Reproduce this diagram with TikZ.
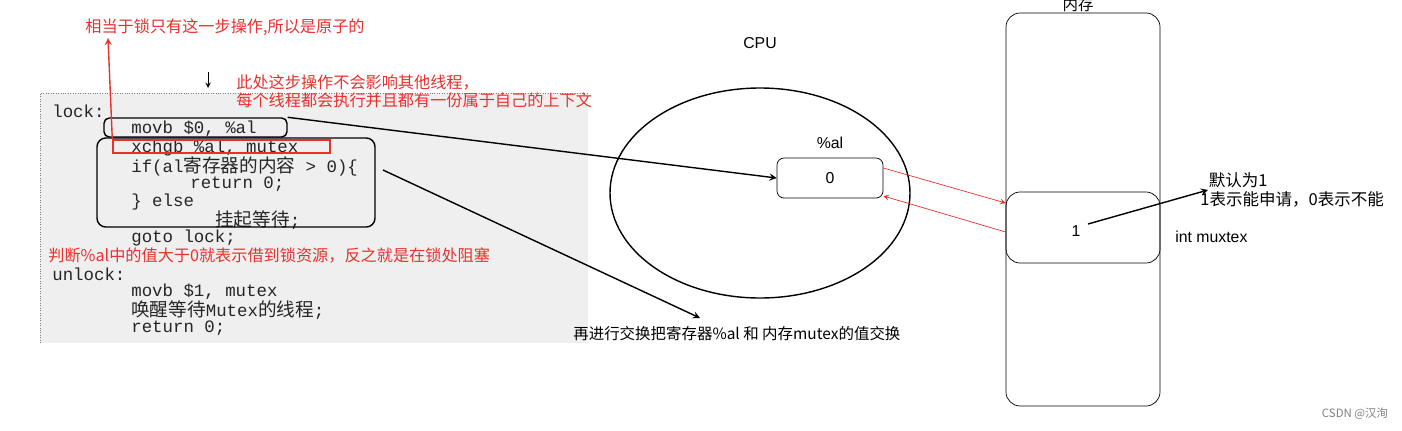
\documentclass[tikz,border=0pt]{standalone}
\usepackage{fontspec}
\setmainfont{Noto Sans CJK SC}
\newfontfamily\codefont{Liberation Mono}
\newfontfamily\latinfont{Liberation Sans}
\usetikzlibrary{positioning,shapes.geometric}
\definecolor{notered}{HTML}{E8312F}
\definecolor{codebg}{HTML}{EFEFEF}
\tikzset{
    note/.style = {text=notered, font=\fontsize{9.2}{10.4}\selectfont, inner sep=0pt, anchor=west, align=left},
    label-text/.style = {font=\fontsize{8.8}{10}\selectfont, inner sep=0pt},
    latin-text/.style = {font=\latinfont\fontsize{9}{10}\selectfont, inner sep=0pt},
    code-line/.style = {font=\codefont\fontsize{9.9}{11}\selectfont, text=black!85, inner sep=0pt, anchor=west},
    mark-box/.style = {draw, thick, rounded corners=5pt},
}
\newcommand{\zh}[1]{{\normalfont\fontsize{10.6}{11}\selectfont #1}}
\begin{document}
\begin{tikzpicture}[x=0.02cm,y=-0.02cm,>=stealth]
\useasboundingbox (0,0) rectangle (1402,430);
% code snippet background
\fill[codebg] (40,93) rectangle (588,343);
\draw[densely dotted, gray] (40,343) -- (40,93) -- (588,93);
\node[code-line] (l1) at (52,111) {lock:};
\node[code-line] (l2) at (131,129) {movb \$0, \%al};
\node[code-line] (l3) at (131,148) {xchgb \%al, mutex};
\node[code-line] (l4) at (131,166) {if(al\zh{寄存器的内容} > 0)\{};
\node[code-line] (l5) at (190,184) {return 0;};
\node[code-line] (l6) at (131,202) {\} else};
\node[code-line] (l7) at (215,220) {\zh{挂起等待};};
\node[code-line] (l8) at (131,238) {goto lock;};
\node[note] (judge) at (48,256) {判断\%al中的值大于0就表示借到锁资源，反之就是在锁处阻塞};
\node[code-line] (l9) at (52,274) {unlock:};
\node[code-line] (l10) at (131,292) {movb \$1, mutex};
\node[code-line] (l11) at (131,310) {\zh{唤醒等待}Mutex\zh{的线程};};
\node[code-line] (l12) at (131,328) {return 0;};
% marks on the code
\node[mark-box, minimum width=183*0.02cm, minimum height=19*0.02cm, rounded corners=3pt] (movbox) at (195.5,127.5) {};
\node[mark-box, minimum width=278*0.02cm, minimum height=89*0.02cm] (ifbox) at (236,182.5) {};
\node[draw=notered, thick, minimum width=217*0.02cm, minimum height=13*0.02cm, inner sep=0pt] (xchbox) at (221.5,146.5) {};
\node[note] (atomic) at (85,27) {相当于锁只有这一步操作,所以是原子的};
\coordinate (atomtip) at (108,38);
\draw[->, notered, thick] (xchbox.north west) -- (atomtip);
\coordinate (downtop) at (208,72);
\coordinate (downend) at (208,88);
\draw[->] (downtop) -- (downend);
\node[note] (thread) at (236,91) {此处这步操作不会影响其他线程，\\每个线程都会执行并且都有一份属于自己的上下文};
% CPU
\node[draw, thick, ellipse, minimum width=300*0.02cm, minimum height=210*0.02cm, inner sep=0pt] (cpu) at (760,193) {};
\node[latin-text] (cpulabel) at (760,43) {CPU};
\node[latin-text] (allabel) at (830,143) {\%al};
\node[draw, rounded corners=4pt, minimum width=106*0.02cm, minimum height=40*0.02cm, latin-text] (al) at (830,178) {0};
% memory
\node[draw, rounded corners=8pt, minimum width=154*0.02cm, minimum height=393*0.02cm] (mem) at (1083,209.5) {};
\node[label-text] (memlabel) at (1078,5) {内存};
\node[draw, rounded corners=8pt, minimum width=154*0.02cm, minimum height=71*0.02cm] (mutex) at (1083,227.5) {};
\node[latin-text] (one) at (1076,231) {1};
\node[latin-text, anchor=west] (intm) at (1175,237) {int muxtex};
\node[label-text, anchor=west, align=left, font=\fontsize{9.4}{10.6}\selectfont] (default) at (1200,190) {\hspace*{12\pgflinewidth}默认为1\\1表示能申请，0表示不能};
\coordinate (onetail) at (1088,224);
\coordinate (onetip) at (1208,190);
\draw[->, thick] (onetail) -- (onetip);
% connectors
\draw[->, thick] (movbox.north east) -- (al.west);
\draw[->, notered] (al.east |- 0,168) -- (mutex.west |- 0,203);
\draw[->, notered] (mutex.west |- 0,232) -- (al.east |- 0,196);
\coordinate (swaptail) at (383,170);
\coordinate (swaptip) at (700,318);
\draw[->, thick] (swaptail) -- (swaptip);
\node[label-text, anchor=west] (swap) at (573,334) {再进行交换把寄存器\%al 和 内存mutex的值交换};
\node[label-text, text=gray, font=\fontsize{6.5}{7}\selectfont] (csdn) at (1355,414) {CSDN @汉洵};
\end{tikzpicture}
\end{document}
